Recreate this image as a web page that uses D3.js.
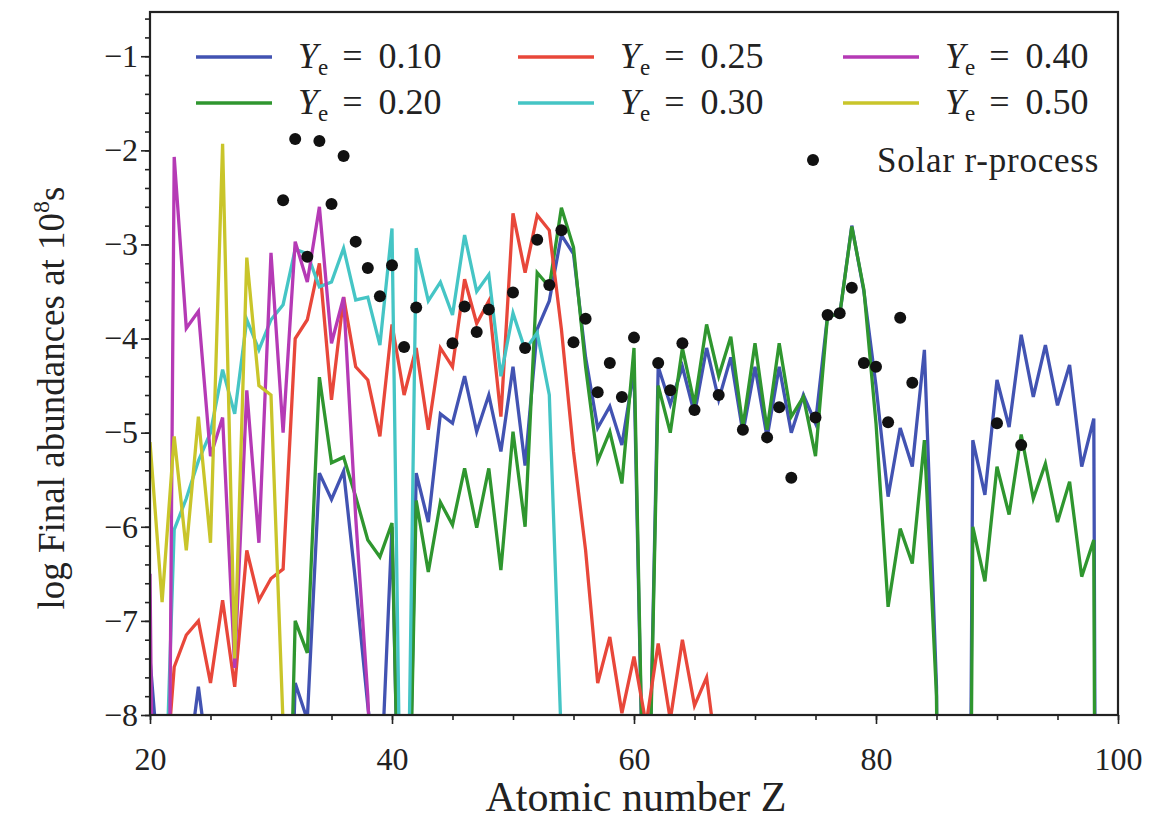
<!DOCTYPE html>
<html>
<head>
<meta charset="utf-8">
<script src="https://cdn.jsdelivr.net/npm/d3@7/dist/d3.min.js"></script>
<style>
  body { margin: 0; background: #fff; }
  svg text { font-family: "Liberation Serif", "DejaVu Serif", serif; fill: #222; }
</style>
</head>
<body>
<div id="chart"></div>
<script>
// log abundances per element, one value per Z starting at the given Z
// (values below -8 fall off the bottom of the plot)
var ye10Start = 20;
var ye10 = [-7.4, -9, -10, -8.7, -7.7, -8.7, -12, -12, -12, -12, -12, -12, -7.66, -8.05,
  -5.43, -5.71, -5.41, -6.6, -7.9, -9, -6.0, -12, -5.43, -5.95, -4.8, -4.9, -4.4, -4.99,
  -4.6, -5.2, -4.3, -5.35, -3.9, -3.6, -2.9, -3.1, -4.2, -4.95, -4.72, -5.13, -4.33, -10.5,
  -4.3, -4.7, -4.3, -4.8, -4.1, -4.65, -4.2, -5.0, -4.3, -5.05, -4.3, -5.0, -4.6, -4.9,
  -3.75, -3.75, -2.8, -3.5, -4.5, -5.68, -4.95, -5.36, -4.12, -7.7, -25, -25, -5.08, -5.66,
  -4.44, -4.94, -3.96, -4.62, -4.07, -4.71, -4.28, -5.36, -4.85, -40];

var ye20Start = 31;
var ye20 = [-12, -7.0, -7.34, -4.41, -5.32, -5.26, -5.68, -6.14, -6.32, -5.96, -12, -5.72,
  -6.48, -5.74, -5.98, -5.38, -6.01, -5.38, -6.46, -4.99, -6.0, -3.3, -3.45, -2.61, -3.03,
  -4.3, -5.3, -4.99, -5.54, -4.1, -10.5, -4.5, -5.0, -4.1, -4.7, -3.85, -4.4, -3.98, -4.94,
  -4.05, -4.97, -4.05, -4.83, -4.62, -5.25, -3.75, -3.75, -2.81, -3.48, -4.9, -6.85, -6.02,
  -6.39, -5.08, -7.8, -25, -25, -6.0, -6.58, -5.36, -5.87, -5.02, -5.7, -5.33, -5.95, -5.52,
  -6.53, -6.14, -40];

var ye25Start = 20;
var ye25 = [-10, -9.2, -7.49, -7.15, -7.0, -7.66, -6.78, -7.7, -6.25, -6.78, -6.55, -6.45,
  -4.0, -3.8, -3.2, -4.65, -3.56, -4.3, -4.44, -5.04, -3.85, -4.6, -4.1, -4.97, -4.1, -4.3,
  -3.37, -3.84, -3.6, -4.83, -2.67, -3.3, -2.69, -2.85, -3.9, -5.2, -6.25, -7.66, -7.17,
  -7.98, -7.38, -8.1, -7.24, -8.05, -7.2, -7.9, -7.6, -8.6];

var ye30Start = 20;
var ye30 = [-12, -10, -6.03, -5.7, -5.3, -5.0, -4.33, -4.8, -3.8, -4.12, -3.8, -3.64, -3.05,
  -3.1, -3.45, -3.4, -3.04, -3.59, -3.56, -4.07, -2.83, -12, -3.04, -3.6, -3.4, -3.75, -2.9,
  -3.5, -3.32, -4.4, -3.73, -4.12, -3.94, -4.6, -8.3, -12];

var ye40Start = 20;
var ye40 = [-6.5, -19, -2.07, -3.89, -3.71, -5.25, -4.84, -7.5, -4.55, -6.17, -3.09, -5.0,
  -2.97, -3.4, -2.6, -4.05, -3.56, -5.9, -7.8, -11];

var ye50Start = 20;
var ye50 = [-5.1, -6.8, -5.04, -6.25, -4.83, -6.17, -1.93, -7.4, -3.14, -4.5, -4.6, -8.1, -12];

// solar r-process pattern
var solarZ = [31, 32, 33, 34, 35, 36, 37, 38, 39, 40, 41, 42, 45, 46, 47, 48, 50, 51, 52, 53,
  54, 55, 56, 57, 58, 59, 60, 62, 63, 64, 65, 67, 69, 71, 72, 73, 75, 76, 77, 78, 79, 80,
  81, 82, 83, 90, 92];
var solarV = [-2.53, -1.88, -3.13, -1.9, -2.57, -2.06, -2.97, -3.25, -3.55, -3.22, -4.09,
  -3.67, -4.05, -3.66, -3.93, -3.69, -3.51, -4.1, -2.95, -3.43, -2.85, -4.04, -3.79, -4.57,
  -4.26, -4.62, -3.99, -4.26, -4.55, -4.05, -4.76, -4.6, -4.97, -5.05, -4.73, -5.48, -4.84,
  -3.75, -3.73, -3.46, -4.26, -4.3, -4.89, -3.78, -4.47, -4.9, -5.13];

var yeLabels = ["0.10", "0.20", "0.25", "0.30", "0.40", "0.50"];
var yeColors = ["#4253b2", "#2f962f", "#e8473a", "#45c5c5", "#b53ab5", "#c9c52a"];

var series = [
  {start: ye10Start, vals: ye10},
  {start: ye20Start, vals: ye20},
  {start: ye25Start, vals: ye25},
  {start: ye30Start, vals: ye30},
  {start: ye40Start, vals: ye40},
  {start: ye50Start, vals: ye50}
];

var fullWidth = 1164, fullHeight = 820;
var plotLeft = 150, plotRight = 1118, plotTop = 12, plotBottom = 715;

var svg = d3.select("#chart").append("svg")
  .attr("width", fullWidth)
  .attr("height", fullHeight);

var xScale = d3.scaleLinear().domain([20, 100]).range([plotLeft, plotRight]);
var yScale = d3.scaleLinear().domain([-8, -0.53]).range([plotBottom, plotTop]);

svg.append("clipPath").attr("id", "plotclip")
  .append("rect")
  .attr("x", plotLeft).attr("y", plotTop)
  .attr("width", plotRight - plotLeft).attr("height", plotBottom - plotTop);

// minor ticks first, then major ones
var xMinor = d3.axisBottom(xScale).tickValues(d3.range(20, 101, 5)).tickSize(5).tickFormat("");
var xMajor = d3.axisBottom(xScale).tickValues([20, 40, 60, 80, 100]).tickSize(9).tickPadding(23);
var yMinor = d3.axisLeft(yScale)
  .tickValues(d3.range(-40, -2).map(function(d) { return d / 5; })).tickSize(5).tickFormat("");
var yMajor = d3.axisLeft(yScale).tickValues([-8, -7, -6, -5, -4, -3, -2, -1]).tickSize(9)
  .tickPadding(3)
  .tickFormat(function(d) { return "\u2212" + Math.abs(d); });

function styleAxis(g) {
  g.select(".domain").remove();
  g.selectAll(".tick line").attr("stroke", "#222").attr("stroke-width", 1.6);
  g.selectAll(".tick text").attr("font-size", 32).attr("fill", "#222")
    .style("font-family", "'Liberation Serif', serif");
}

svg.append("g").attr("transform", "translate(0," + plotBottom + ")").call(xMinor).call(styleAxis);
svg.append("g").attr("transform", "translate(0," + plotBottom + ")").call(xMajor).call(styleAxis);
svg.append("g").attr("transform", "translate(" + plotLeft + ",0)").call(yMinor).call(styleAxis);
svg.append("g").attr("transform", "translate(" + plotLeft + ",0)").call(yMajor).call(styleAxis);

var line = d3.line()
  .x(function(d) { return xScale(d.z); })
  .y(function(d) { return yScale(d.v); });

var plot = svg.append("g").attr("clip-path", "url(#plotclip)");

series.forEach(function(s, i) {
  var pts = s.vals.map(function(v, k) { return {z: s.start + k, v: v}; });
  plot.append("path")
    .datum(pts)
    .attr("d", line)
    .attr("fill", "none")
    .attr("stroke", yeColors[i])
    .attr("stroke-width", 3.3)
    .attr("stroke-linejoin", "miter");
});

plot.selectAll("circle.solar")
  .data(solarZ)
  .enter().append("circle")
  .attr("class", "solar")
  .attr("cx", function(d) { return xScale(d); })
  .attr("cy", function(d, i) { return yScale(solarV[i]); })
  .attr("r", 6)
  .attr("fill", "#111");

// frame
svg.append("rect")
  .attr("x", plotLeft).attr("y", plotTop)
  .attr("width", plotRight - plotLeft).attr("height", plotBottom - plotTop)
  .attr("fill", "none").attr("stroke", "#222").attr("stroke-width", 2.2);

// legend: 3 columns x 2 rows
var legCols = [196, 518, 843];
var legRows = [57, 103];
var legOrder = [0, 2, 4, 1, 3, 5];   // row major: 0.10 0.25 0.40 / 0.20 0.30 0.50

legOrder.forEach(function(si, k) {
  var cx = legCols[k % 3], cy = legRows[Math.floor(k / 3)];
  svg.append("line")
    .attr("x1", cx).attr("x2", cx + 76)
    .attr("y1", cy).attr("y2", cy)
    .attr("stroke", yeColors[si]).attr("stroke-width", 3.3);
  var t = svg.append("text")
    .attr("x", cx + 102).attr("y", cy + 11)
    .attr("font-size", 36);
  t.append("tspan").attr("font-style", "italic").text("Y");
  t.append("tspan").attr("font-size", 23).attr("dy", 7).text("e");
  t.append("tspan").attr("dy", -7).attr("dx", 14).text("=");
  t.append("tspan").attr("dx", 16).text(yeLabels[si]);
});

svg.append("circle").attr("cx", 813).attr("cy", 160).attr("r", 6).attr("fill", "#111");
svg.append("text").attr("x", 877).attr("y", 172).attr("font-size", 35)
  .attr("letter-spacing", 0.8).text("Solar r-process");

// axis titles
svg.append("text")
  .attr("x", (plotLeft + plotRight) / 2 + 2).attr("y", 811)
  .attr("text-anchor", "middle").attr("font-size", 42)
  .text("Atomic number Z");

var yt = svg.append("text")
  .attr("transform", "translate(64,398) rotate(-90)")
  .attr("text-anchor", "middle").attr("font-size", 37);
yt.append("tspan").text("log Final abundances at 10");
yt.append("tspan").attr("font-size", 24).attr("dy", -15).text("8");
yt.append("tspan").attr("dy", 15).text("s");
</script>
</body>
</html>
